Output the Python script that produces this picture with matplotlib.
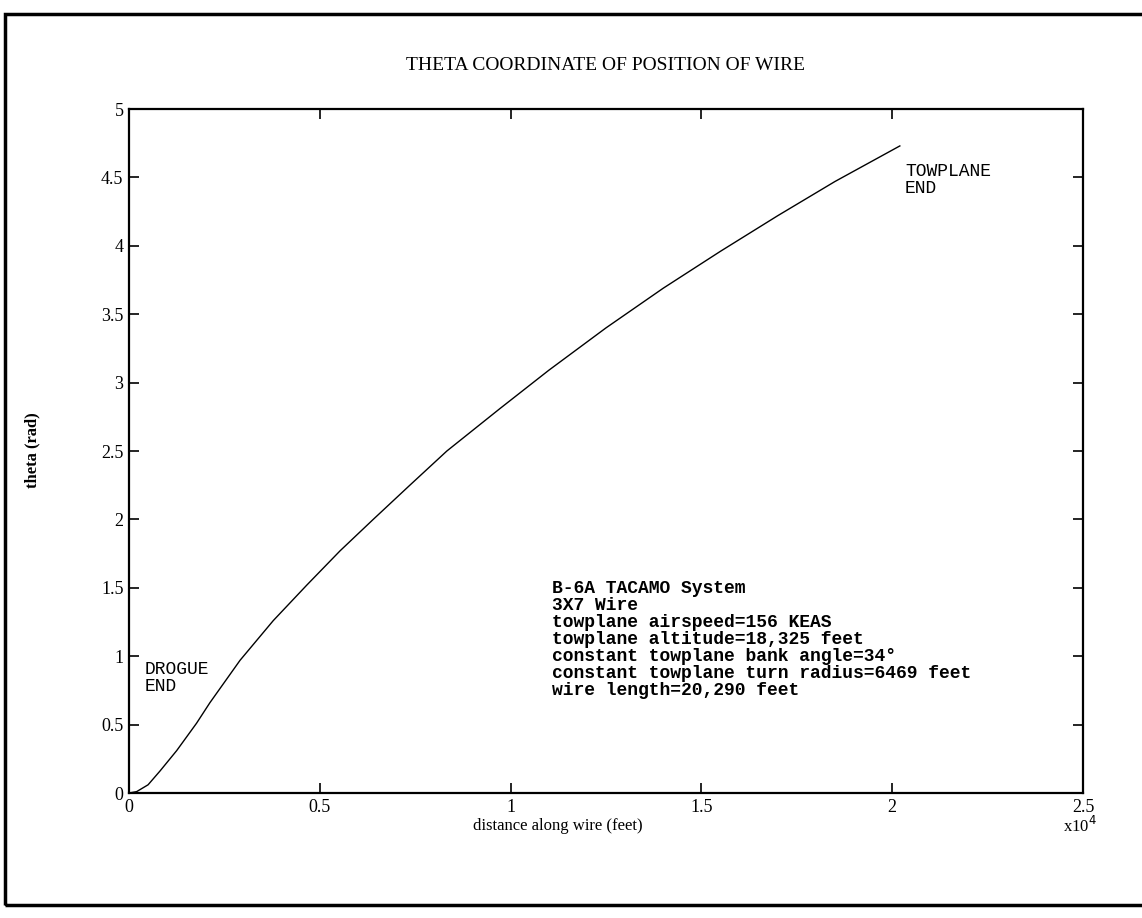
import numpy as np
import matplotlib
matplotlib.use("Agg")
import matplotlib.pyplot as plt
from matplotlib.patches import Rectangle

# distance along wire (x 1e4 feet) and theta (rad)
dist = [0.0, 0.02, 0.05, 0.081, 0.125, 0.177, 0.212, 0.291, 0.378, 0.466,
        0.553, 0.64, 0.736, 0.833, 0.972, 1.1, 1.25, 1.4, 1.55, 1.7, 1.85, 2.02]
theta = [0.0, 0.01, 0.06, 0.16, 0.31, 0.51, 0.66, 0.97, 1.26, 1.52,
         1.77, 2.0, 2.25, 2.5, 2.81, 3.09, 3.40, 3.69, 3.96, 4.22, 4.47, 4.73]

xticks = [0, 0.5, 1, 1.5, 2, 2.5]
xticklabels = ["0", "0.5", "1", "1.5", "2", "2.5"]
yticks = [0, 0.5, 1, 1.5, 2, 2.5, 3, 3.5, 4, 4.5, 5]
yticklabels = ["0", "0.5", "1", "1.5", "2", "2.5", "3", "3.5", "4", "4.5", "5"]

info = ["B-6A TACAMO System",
        "3X7 Wire",
        "towplane airspeed=156 KEAS",
        "towplane altitude=18,325 feet",
        "constant towplane bank angle=34\u00b0",
        "constant towplane turn radius=6469 feet",
        "wire length=20,290 feet"]

serif = "Liberation Serif"
mono = "Liberation Mono"

fig = plt.figure(figsize=(11.42, 9.18), dpi=100)
ax = fig.add_axes([129/1142, 1 - 793/918, (1083 - 129)/1142, (793 - 109)/918])

ax.plot(dist, theta, color="black", lw=1.0)
ax.set_xlim(0, 2.5)
ax.set_ylim(0, 5)
ax.set_xticks(xticks)
ax.set_xticklabels(xticklabels)
ax.set_yticks(yticks)
ax.set_yticklabels(yticklabels)
ax.tick_params(direction="in", length=7, width=1.2, top=True, right=True,
               labelsize=13, pad=4)
for lab in ax.get_xticklabels() + ax.get_yticklabels():
    lab.set_family(serif)
for s in ax.spines.values():
    s.set_linewidth(1.6)

fig.text(605/1142, 1 - 66/918, "THETA COORDINATE OF POSITION OF WIRE",
         ha="center", va="center", family=serif, fontsize=14)
fig.text(558/1142, 1 - 826/918, "distance along wire (feet)",
         ha="center", va="center", family=serif, fontsize=12)
fig.text(1080/1142, 1 - 826/918, r"x10$^4$",
         ha="center", va="center", family=serif, fontsize=12)
fig.text(32/1142, 1 - 450/918, "theta (rad)", rotation=90,
         ha="center", va="center", family=serif, fontsize=12, weight="bold")

fig.text(145/1142, 1 - 678/918, "DROGUE\nEND", family=mono, fontsize=13,
         va="center", linespacing=1.05)
fig.text(905/1142, 1 - 180/918, "TOWPLANE\nEND", family=mono, fontsize=13,
         va="center", linespacing=1.05)
fig.text(552/1142, 1 - 580/918, "\n".join(info), family=mono, fontsize=13,
         weight="bold", va="top", linespacing=1.0)

# scanned page border
fig.patches.append(Rectangle((5/1142, 1 - 905/918), 1.2, (905 - 14)/918,
                             transform=fig.transFigure, fill=False,
                             lw=2.5, ec="black"))

fig.savefig("out.png", dpi=100)
